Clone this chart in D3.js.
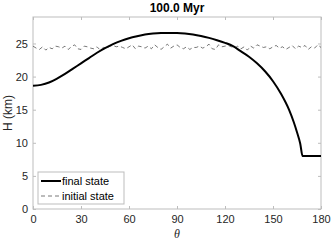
<!DOCTYPE html>
<html>
<head>
  <meta charset="utf-8">
  <script src="https://d3js.org/d3.v7.min.js"></script>
  <style>
    body { margin: 0; padding: 0; background: #fff; }
    text { font-family: "Liberation Sans", Arial, sans-serif; }
  </style>
</head>
<body>
  <div id="chart"></div>
  <script>
    // final state: theta (deg) and H (km)
    var finalTheta = [0, 5, 10, 15, 20, 25, 30, 35, 40, 45, 50, 55, 60, 65, 70, 75, 80, 85, 90,
      95, 100, 105, 110, 115, 120, 125, 130, 135, 140, 145, 150, 155, 160, 163, 165, 167, 168.5, 170, 175, 180]
    var finalH = [18.6, 18.75, 19.1, 19.7, 20.4, 21.2, 22.0, 22.8, 23.6, 24.3, 24.9, 25.4, 25.8, 26.1, 26.35,
      26.5, 26.58, 26.6, 26.58, 26.5, 26.35, 26.13, 25.85, 25.5, 25.1, 24.6, 23.8, 23.0, 22.0, 20.8, 19.3,
      17.4, 15.0, 13.1, 11.6, 9.9, 8.0, 8.0, 8.0, 8.0]

    // initial state: every 2 deg from 0 to 180
    var initialH = [24.6, 24.3, 24.1, 24.5, 24.0, 24.4, 24.2, 24.6, 24.5, 24.3, 24.6, 24.1, 24.5, 24.8,
      24.2, 24.1, 24.6, 24.5, 24.3, 24.2, 24.5, 24.0, 24.4, 24.3, 24.6, 24.7, 24.5, 24.6, 24.4, 24.2,
      24.5, 24.8, 24.2, 24.6, 24.5, 24.3, 24.6, 24.2, 24.8, 24.4, 24.1, 24.5, 24.9, 24.3, 24.6, 24.8,
      24.4, 24.2, 24.5, 24.1, 24.4, 24.4, 24.6, 24.3, 24.5, 24.9, 24.2, 24.1, 24.8, 24.5, 24.6, 24.7,
      24.5, 24.3, 24.6, 24.2, 24.5, 24.0, 24.6, 24.3, 24.8, 24.6, 24.4, 24.5, 24.2, 24.5, 24.7, 24.3,
      24.5, 24.1, 24.4, 24.7, 24.2, 24.6, 24.4, 24.7, 24.1, 24.5, 24.3, 24.8, 24.4]

    var xTicks = [0, 30, 60, 90, 120, 150, 180]
    var yTicks = [0, 5, 10, 15, 20, 25]
    var title = "100.0 Myr"
    var yLabel = "H (km)"
    var xLabel = "θ"
    var legendLabels = ["final state", "initial state"]

    var W = 332, Hgt = 242
    var margin = { top: 17, right: 11, bottom: 33, left: 33 }
    var width = W - margin.left - margin.right
    var height = Hgt - margin.top - margin.bottom

    var svg = d3.select("#chart").append("svg")
      .attr("width", W).attr("height", Hgt)

    var g = svg.append("g")
      .attr("transform", "translate(" + margin.left + "," + margin.top + ")")

    var x = d3.scaleLinear().domain([0, 180]).range([0, width])
    var y = d3.scaleLinear().domain([0, 29]).range([height, 0])

    // frame
    g.append("rect")
      .attr("width", width).attr("height", height)
      .attr("fill", "none").attr("stroke", "#bdbdbd").attr("stroke-width", 1)

    // axes with inward ticks
    function styleAxis(sel) {
      sel.select(".domain").remove()
      sel.selectAll(".tick line").attr("stroke", "#bdbdbd")
      sel.selectAll(".tick text").attr("fill", "#262626").style("font-size", "11px")
    }
    g.append("g").attr("transform", "translate(0," + height + ")")
      .call(d3.axisBottom(x).tickValues(xTicks).tickSizeInner(-3).tickPadding(6))
      .call(styleAxis)
    g.append("g")
      .call(d3.axisTop(x).tickValues(xTicks).tickSizeInner(-3).tickFormat(""))
      .call(styleAxis)
    g.append("g")
      .call(d3.axisLeft(y).tickValues(yTicks).tickSizeInner(-3).tickPadding(5))
      .call(styleAxis)
    g.append("g").attr("transform", "translate(" + width + ",0)")
      .call(d3.axisRight(y).tickValues(yTicks).tickSizeInner(-3).tickFormat(""))
      .call(styleAxis)

    // initial state (dashed)
    var initData = initialH.map(function (v, i) { return { t: i * 2, h: v } })
    g.append("path")
      .datum(initData)
      .attr("fill", "none")
      .attr("stroke", "#555")
      .attr("stroke-width", 0.8)
      .style("stroke-dasharray", "4, 3")
      .attr("d", d3.line()
        .x(function (d) { return x(d.t) })
        .y(function (d) { return y(d.h) }))

    // final state
    var finalData = finalTheta.map(function (t, i) { return { t: t, h: finalH[i] } })
    g.append("path")
      .datum(finalData)
      .attr("fill", "none")
      .attr("stroke", "#000")
      .attr("stroke-width", 2)
      .attr("d", d3.line().curve(d3.curveMonotoneX)
        .x(function (d) { return x(d.t) })
        .y(function (d) { return y(d.h) }))

    // legend
    var lg = svg.append("g").attr("transform", "translate(38,172)")
    lg.append("rect").attr("width", 86).attr("height", 32)
      .attr("fill", "#fff").attr("stroke", "#bdbdbd").attr("stroke-width", 1)
    lg.append("line").attr("x1", 3).attr("x2", 23).attr("y1", 9).attr("y2", 9)
      .attr("stroke", "#000").attr("stroke-width", 2)
    lg.append("line").attr("x1", 3).attr("x2", 23).attr("y1", 24).attr("y2", 24)
      .attr("stroke", "#555").attr("stroke-width", 0.8).style("stroke-dasharray", "4, 3")
    lg.selectAll("text.lab").data(legendLabels).enter().append("text")
      .attr("x", 24).attr("y", function (d, i) { return 13 + i * 15 })
      .attr("fill", "#000").style("font-size", "11px")
      .text(function (d) { return d })

    // title and labels
    svg.append("text").attr("x", margin.left + width / 2).attr("y", 12)
      .attr("text-anchor", "middle").style("font-size", "12px").style("font-weight", "bold")
      .text(title)
    svg.append("text")
      .attr("transform", "translate(12," + (margin.top + height / 2) + ") rotate(-90)")
      .attr("text-anchor", "middle").attr("fill", "#262626").style("font-size", "12px")
      .text(yLabel)
    svg.append("text").attr("x", margin.left + width / 2).attr("y", 238)
      .attr("text-anchor", "middle").attr("fill", "#262626")
      .style("font-size", "12px").style("font-style", "italic").style("font-family", "'Liberation Serif', serif")
      .text(xLabel)
  </script>
</body>
</html>
